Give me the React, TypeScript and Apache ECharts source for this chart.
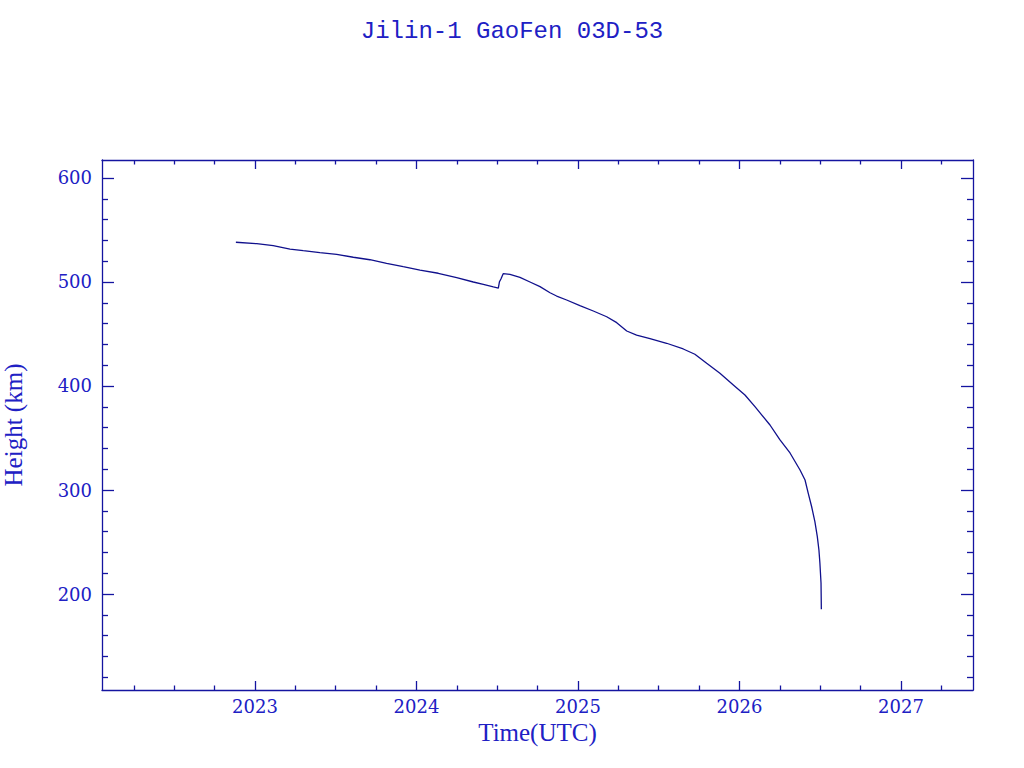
import React, { useEffect, useRef } from "react";
import * as echarts from "echarts";

const TITLE = "Jilin-1 GaoFen 03D-53";
const X_NAME = "Time(UTC)";
const Y_NAME = "Height (km)";

// decimal year of each sample
const YEARS = [
  2022.882, 2023.011, 2023.113, 2023.217, 2023.299, 2023.402, 2023.506, 2023.609,
  2023.712, 2023.815, 2023.918, 2024.022, 2024.135, 2024.249, 2024.352, 2024.414,
  2024.476, 2024.507, 2024.514, 2024.523, 2024.537, 2024.579, 2024.641, 2024.703,
  2024.765, 2024.827, 2024.868, 2024.93, 2025.012, 2025.095, 2025.178, 2025.24,
  2025.302, 2025.363, 2025.446, 2025.549, 2025.652, 2025.724, 2025.797, 2025.879,
  2025.962, 2026.034, 2026.096, 2026.189, 2026.251, 2026.313, 2026.375, 2026.406,
  2026.426, 2026.447, 2026.467, 2026.482, 2026.492, 2026.498, 2026.505, 2026.507,
];
// height in km
const HEIGHTS = [
  538.2, 536.8, 534.9, 531.7, 530.1, 528.2, 526.6, 523.8,
  521.4, 518.0, 514.7, 511.5, 508.4, 504.1, 500.0, 497.8,
  495.2, 494.2, 500.3, 502.9, 508.0, 507.4, 504.5, 500.0,
  495.5, 489.7, 486.5, 482.7, 477.2, 472.1, 466.6, 460.9,
  452.9, 449.0, 445.5, 441.1, 435.6, 430.5, 421.8, 412.2,
  401.0, 391.3, 380.1, 362.5, 348.1, 335.6, 319.2, 309.6,
  296.8, 283.9, 269.5, 255.1, 242.3, 229.8, 210.6, 185.3,
];

const X_MAJOR = [2023, 2024, 2025, 2026, 2027];
const X_MINOR = [
  2022.25, 2022.5, 2022.75, 2023.25, 2023.5, 2023.75, 2024.25, 2024.5, 2024.75,
  2025.25, 2025.5, 2025.75, 2026.25, 2026.5, 2026.75, 2027.25,
];
const Y_MAJOR = [200, 300, 400, 500, 600];
const Y_MINOR = [
  120, 140, 160, 180, 220, 240, 260, 280, 320, 340, 360, 380, 420, 440, 460, 480,
  520, 540, 560, 580,
];

const X_MIN = 2022.053;
const X_MAX = 2027.446;
const Y_MIN = 107.7;
const Y_MAX = 617.3;

const AXIS_COLOR = "#1414a0";
const TEXT_COLOR = "#2020c4";
const LINE_COLOR = "#10108c";

export default function App() {
  const ref = useRef<HTMLDivElement>(null);

  useEffect(() => {
    if (!ref.current) return;
    const chart = echarts.init(ref.current, undefined, { renderer: "svg" });

    const baseX = (position: string, ticks: number[], len: number, main: boolean) => ({
      type: "value",
      position,
      min: X_MIN,
      max: X_MAX,
      splitLine: { show: false },
      axisLine: main ? { show: true, lineStyle: { color: AXIS_COLOR, width: 1.3 } } : { show: false },
      axisTick: {
        show: true,
        inside: true,
        length: len,
        customValues: ticks,
        lineStyle: { color: AXIS_COLOR, width: 1.3 },
      },
      axisLabel: { show: false },
    });
    const baseY = (position: string, ticks: number[], len: number, main: boolean) => ({
      type: "value",
      position,
      min: Y_MIN,
      max: Y_MAX,
      splitLine: { show: false },
      axisLine: main ? { show: true, lineStyle: { color: AXIS_COLOR, width: 1.3 } } : { show: false },
      axisTick: {
        show: true,
        inside: true,
        length: len,
        customValues: ticks,
        lineStyle: { color: AXIS_COLOR, width: 1.3 },
      },
      axisLabel: { show: false },
    });

    const xMain: any = baseX("bottom", X_MAJOR, 9, true);
    xMain.axisLabel = {
      show: true,
      customValues: X_MAJOR,
      color: TEXT_COLOR,
      fontFamily: "DejaVu Serif",
      fontSize: 18,
      margin: 7,
      formatter: (v: number) => String(Math.round(v)),
    };
    xMain.name = X_NAME;
    xMain.nameLocation = "middle";
    xMain.nameGap = 30;
    xMain.nameTextStyle = { color: TEXT_COLOR, fontFamily: "Liberation Serif", fontSize: 25 };

    const yMain: any = baseY("left", Y_MAJOR, 12, true);
    yMain.axisLabel = {
      show: true,
      customValues: Y_MAJOR,
      color: TEXT_COLOR,
      fontFamily: "DejaVu Serif",
      fontSize: 18,
      margin: 10,
      formatter: (v: number) => String(Math.round(v)),
    };
    yMain.name = Y_NAME;
    yMain.nameLocation = "middle";
    yMain.nameGap = 76;
    yMain.nameTextStyle = {
      color: TEXT_COLOR,
      fontFamily: "Liberation Serif",
      fontSize: 25,
      lineHeight: 25,
    };

    chart.setOption({
      animation: false,
      backgroundColor: "#ffffff",
      title: {
        text: TITLE,
        left: "center",
        top: 14,
        textStyle: {
          color: TEXT_COLOR,
          fontFamily: "Liberation Mono",
          fontSize: 24,
          fontWeight: "normal",
        },
      },
      grid: {
        left: 102,
        top: 160,
        right: 51,
        bottom: 78,
        containLabel: false,
        outerBoundsMode: "none",
      },
      xAxis: [
        xMain,
        baseX("bottom", X_MINOR, 4.5, false),
        baseX("top", X_MAJOR, 9, true),
        baseX("top", X_MINOR, 4.5, false),
      ],
      yAxis: [
        yMain,
        baseY("left", Y_MINOR, 6, false),
        baseY("right", Y_MAJOR, 12, true),
        baseY("right", Y_MINOR, 6, false),
      ],
      series: [
        {
          type: "line",
          xAxisIndex: 0,
          yAxisIndex: 0,
          data: YEARS.map((y, i) => [y, HEIGHTS[i]]),
          showSymbol: false,
          symbol: "none",
          lineStyle: { color: LINE_COLOR, width: 1.3 },
          clip: true,
        },
      ],
    });

    return () => chart.dispose();
  }, []);

  return (
    <div
      ref={ref}
      style={{ position: "fixed", left: 0, top: 0, width: 1024, height: 768, background: "#fff" }}
    />
  );
}
